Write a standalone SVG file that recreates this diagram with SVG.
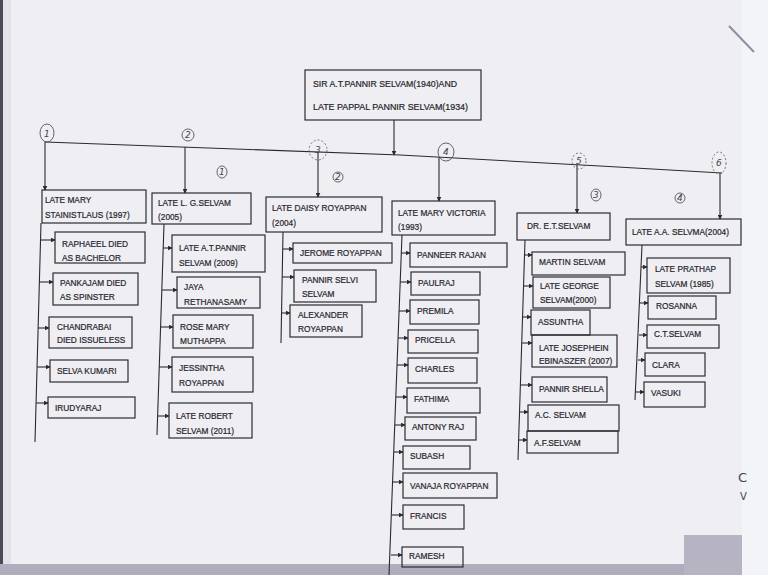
<svg xmlns="http://www.w3.org/2000/svg" width="768" height="575" viewBox="0 0 768 575">
<defs>
<style>
.bg{fill:#efeef3}
.box{fill:none;stroke:#2c2c33;stroke-width:1.2}
.t{font-family:"Liberation Sans",Arial,sans-serif;font-size:8.3px;fill:#26262c;stroke:#26262c;stroke-width:0.2}
.ln{fill:none;stroke:#2a2a30;stroke-width:1.1}
.arw{fill:none;stroke:#2a2a30;stroke-width:1.1;marker-end:url(#ah)}
.hw{fill:none;stroke:#55555e;stroke-width:0.9}
.hwd{fill:none;stroke:#66666e;stroke-width:0.9;stroke-dasharray:2 2}
.ht{font-family:"DejaVu Sans",sans-serif;font-size:9px;fill:#44444c;font-style:italic}
</style>
<marker id="ah" viewBox="0 0 8 8" refX="7" refY="4" markerWidth="5" markerHeight="5" orient="auto" markerUnits="userSpaceOnUse">
<path d="M0,0 L8,4 L0,8 z" fill="#2a2a30"/>
</marker>
</defs>

<!-- paper -->
<rect class="bg" x="0" y="0" width="768" height="575"/>
<rect x="742" y="0" width="26" height="575" fill="#f3f4f8"/>
<rect x="0" y="0" width="3" height="575" fill="#4a4a55"/>
<rect x="3" y="0" width="8" height="575" fill="#e3e2ea"/>
<rect x="0" y="564" width="742" height="11" fill="#b0aebc"/>
<rect x="684" y="535" width="58" height="40" fill="#b6b4c2"/>
<line x1="729" y1="26" x2="754" y2="52" stroke="#8e8da0" stroke-width="2"/>

<g id="connectors">
<!-- main rail -->
<polyline class="ln" points="45,142 400,155 600,166 722,173"/>
<line class="arw" x1="394" y1="120" x2="394" y2="155"/>
<line class="arw" x1="45" y1="142" x2="45" y2="190"/>
<line class="arw" x1="185" y1="147" x2="185" y2="193"/>
<line class="arw" x1="318" y1="152" x2="318" y2="197"/>
<line class="arw" x1="439" y1="157" x2="439" y2="201"/>
<line class="arw" x1="577" y1="165" x2="577" y2="213"/>
<line class="arw" x1="720" y1="173" x2="720" y2="219"/>
<!-- trunks -->
<line class="ln" x1="41" y1="223" x2="35" y2="442"/>
<line class="ln" x1="164" y1="224" x2="157" y2="435"/>
<line class="ln" x1="283" y1="232" x2="281" y2="343"/>
<line class="ln" x1="402" y1="235" x2="389" y2="575"/>
<line class="ln" x1="525" y1="240" x2="518" y2="460"/>
<line class="ln" x1="642" y1="245" x2="635" y2="400"/>
<!-- family 1 -->
<line class="arw" x1="40" y1="240" x2="55" y2="240"/>
<line class="arw" x1="39" y1="282" x2="53" y2="282"/>
<line class="arw" x1="38" y1="328" x2="49" y2="328"/>
<line class="arw" x1="37" y1="367" x2="50" y2="367"/>
<line class="arw" x1="36" y1="403" x2="48" y2="403"/>
<!-- family 2 -->
<line class="arw" x1="163" y1="248" x2="172" y2="248"/>
<line class="arw" x1="162" y1="290" x2="177" y2="290"/>
<line class="arw" x1="161" y1="327" x2="173" y2="327"/>
<line class="arw" x1="159" y1="367" x2="172" y2="367"/>
<line class="arw" x1="158" y1="416" x2="169" y2="416"/>
<!-- family 3 -->
<line class="arw" x1="283" y1="249" x2="293" y2="249"/>
<line class="arw" x1="282" y1="277" x2="294" y2="277"/>
<line class="arw" x1="282" y1="313" x2="290" y2="313"/>
<!-- family 4 -->
<line class="arw" x1="401" y1="253" x2="410" y2="253"/>
<line class="arw" x1="400" y1="282" x2="411" y2="282"/>
<line class="arw" x1="399" y1="311" x2="410" y2="311"/>
<line class="arw" x1="398" y1="338" x2="408" y2="338"/>
<line class="arw" x1="397" y1="365" x2="408" y2="365"/>
<line class="arw" x1="396" y1="397" x2="407" y2="397"/>
<line class="arw" x1="395" y1="425" x2="405" y2="425"/>
<line class="arw" x1="394" y1="452" x2="403" y2="452"/>
<line class="arw" x1="393" y1="482" x2="403" y2="482"/>
<line class="arw" x1="392" y1="515" x2="403" y2="515"/>
<line class="arw" x1="391" y1="555" x2="402" y2="555"/>
<!-- family 5 -->
<line class="arw" x1="525" y1="255" x2="532" y2="255"/>
<line class="arw" x1="524" y1="286" x2="533" y2="286"/>
<line class="arw" x1="523" y1="317" x2="531" y2="317"/>
<line class="arw" x1="522" y1="343" x2="532" y2="343"/>
<line class="arw" x1="521" y1="385" x2="532" y2="385"/>
<line class="arw" x1="520" y1="412" x2="528" y2="412"/>
<line class="arw" x1="519" y1="440" x2="527" y2="440"/>
<!-- family 6 -->
<line class="arw" x1="641" y1="267" x2="647" y2="267"/>
<line class="arw" x1="640" y1="303" x2="648" y2="303"/>
<line class="arw" x1="639" y1="335" x2="647" y2="335"/>
<line class="arw" x1="638" y1="360" x2="645" y2="360"/>
<line class="arw" x1="636" y1="392" x2="644" y2="392"/>
</g>

<g id="root">
<rect class="box" x="305" y="70" width="176" height="50"/>
<text class="t" x="313" y="87" textLength="144" lengthAdjust="spacingAndGlyphs">SIR A.T.PANNIR SELVAM(1940)AND</text>
<text class="t" x="313" y="110" textLength="155" lengthAdjust="spacingAndGlyphs">LATE PAPPAL PANNIR  SELVAM(1934)</text>
</g>

<g id="n1"><rect class="box" x="42" y="190" width="104" height="33"/>
<text class="t" x="45" y="203">LATE MARY</text><text class="t" x="45" y="218">STAINISTLAUS (1997)</text></g>
<g id="n2"><rect class="box" x="152" y="193" width="99" height="31"/>
<text class="t" x="158" y="206">LATE L. G.SELVAM</text><text class="t" x="158" y="220">(2005)</text></g>
<g id="n3"><rect class="box" x="266" y="197" width="116" height="35"/>
<text class="t" x="272" y="211">LATE DAISY ROYAPPAN</text><text class="t" x="272" y="226">(2004)</text></g>
<g id="n4"><rect class="box" x="392" y="201" width="103" height="34"/>
<text class="t" x="398" y="216">LATE MARY VICTORIA</text><text class="t" x="398" y="230">(1993)</text></g>
<g id="n5"><rect class="box" x="517" y="213" width="93" height="27"/>
<text class="t" x="527" y="229">DR.  E.T.SELVAM</text></g>
<g id="n6"><rect class="box" x="626" y="219" width="115" height="26"/>
<text class="t" x="632" y="235">LATE A.A. SELVMA(2004)</text></g>

<g id="n1a"><rect class="box" x="55" y="232" width="90" height="31"/><text class="t" x="62" y="247">RAPHAEEL DIED</text><text class="t" x="62" y="261">AS BACHELOR</text></g>
<g id="n1b"><rect class="box" x="53" y="273" width="85" height="32"/><text class="t" x="60" y="286">PANKAJAM DIED</text><text class="t" x="60" y="300">AS SPINSTER</text></g>
<g id="n1c"><rect class="box" x="49" y="317" width="83" height="31"/><text class="t" x="57" y="330">CHANDRABAI</text><text class="t" x="57" y="343">DIED ISSUELESS</text></g>
<g id="n1d"><rect class="box" x="50" y="360" width="78" height="22"/><text class="t" x="57" y="374">SELVA KUMARI</text></g>
<g id="n1e"><rect class="box" x="48" y="397" width="87" height="21"/><text class="t" x="55" y="411">IRUDYARAJ</text></g>

<g id="n2a"><rect class="box" x="172" y="235" width="93" height="37"/><text class="t" x="179" y="251">LATE A.T.PANNIR</text><text class="t" x="179" y="266">SELVAM (2009)</text></g>
<g id="n2b"><rect class="box" x="177" y="277" width="83" height="31"/><text class="t" x="184" y="290">JAYA</text><text class="t" x="184" y="305">RETHANASAMY</text></g>
<g id="n2c"><rect class="box" x="173" y="315" width="80" height="33"/><text class="t" x="180" y="330">ROSE MARY</text><text class="t" x="180" y="344">MUTHAPPA</text></g>
<g id="n2d"><rect class="box" x="172" y="357" width="81" height="35"/><text class="t" x="179" y="371">JESSINTHA</text><text class="t" x="179" y="386">ROYAPPAN</text></g>
<g id="n2e"><rect class="box" x="169" y="403" width="83" height="35"/><text class="t" x="176" y="419">LATE ROBERT</text><text class="t" x="176" y="434">SELVAM (2011)</text></g>

<g id="n3a"><rect class="box" x="293" y="243" width="99" height="20"/><text class="t" x="300" y="256">JEROME ROYAPPAN</text></g>
<g id="n3b"><rect class="box" x="294" y="270" width="82" height="32"/><text class="t" x="302" y="283">PANNIR SELVI</text><text class="t" x="302" y="297">SELVAM</text></g>
<g id="n3c"><rect class="box" x="290" y="305" width="72" height="32"/><text class="t" x="298" y="318">ALEXANDER</text><text class="t" x="298" y="332">ROYAPPAN</text></g>

<g id="n4a"><rect class="box" x="410" y="243" width="97" height="24"/><text class="t" x="417" y="258">PANNEER RAJAN</text></g>
<g id="n4b"><rect class="box" x="411" y="272" width="69" height="23"/><text class="t" x="418" y="286">PAULRAJ</text></g>
<g id="n4c"><rect class="box" x="410" y="300" width="69" height="24"/><text class="t" x="417" y="314">PREMILA</text></g>
<g id="n4d"><rect class="box" x="408" y="330" width="70" height="23"/><text class="t" x="415" y="343">PRICELLA</text></g>
<g id="n4e"><rect class="box" x="408" y="358" width="69" height="25"/><text class="t" x="415" y="372">CHARLES</text></g>
<g id="n4f"><rect class="box" x="407" y="388" width="73" height="25"/><text class="t" x="414" y="402">FATHIMA</text></g>
<g id="n4g"><rect class="box" x="405" y="417" width="71" height="23"/><text class="t" x="412" y="430">ANTONY RAJ</text></g>
<g id="n4h"><rect class="box" x="403" y="446" width="67" height="23"/><text class="t" x="410" y="459">SUBASH</text></g>
<g id="n4i"><rect class="box" x="403" y="473" width="94" height="25"/><text class="t" x="410" y="489">VANAJA ROYAPPAN</text></g>
<g id="n4j"><rect class="box" x="403" y="505" width="61" height="24"/><text class="t" x="410" y="519">FRANCIS</text></g>
<g id="n4k"><rect class="box" x="402" y="547" width="61" height="20"/><text class="t" x="409" y="559">RAMESH</text></g>

<g id="n5a"><rect class="box" x="532" y="252" width="93" height="23"/><text class="t" x="539" y="265">MARTIN SELVAM</text></g>
<g id="n5b"><rect class="box" x="533" y="277" width="77" height="31"/><text class="t" x="540" y="289">LATE GEORGE</text><text class="t" x="540" y="303">SELVAM(2000)</text></g>
<g id="n5c"><rect class="box" x="531" y="310" width="59" height="25"/><text class="t" x="538" y="325">ASSUNTHA</text></g>
<g id="n5d"><rect class="box" x="532" y="335" width="85" height="32"/><text class="t" x="539" y="351">LATE JOSEPHEIN</text><text class="t" x="539" y="364">EBINASZER (2007)</text></g>
<g id="n5e"><rect class="box" x="532" y="377" width="75" height="25"/><text class="t" x="539" y="392">PANNIR SHELLA</text></g>
<g id="n5f"><rect class="box" x="528" y="405" width="91" height="26"/><text class="t" x="535" y="418">A.C. SELVAM</text></g>
<g id="n5g"><rect class="box" x="527" y="431" width="91" height="22"/><text class="t" x="534" y="446">A.F.SELVAM</text></g>

<g id="n6a"><rect class="box" x="647" y="258" width="83" height="35"/><text class="t" x="655" y="272">LATE PRATHAP</text><text class="t" x="655" y="287">SELVAM (1985)</text></g>
<g id="n6b"><rect class="box" x="648" y="296" width="68" height="23"/><text class="t" x="656" y="309">ROSANNA</text></g>
<g id="n6c"><rect class="box" x="647" y="325" width="72" height="23"/><text class="t" x="654" y="337">C.T.SELVAM</text></g>
<g id="n6d"><rect class="box" x="645" y="353" width="60" height="23"/><text class="t" x="652" y="368">CLARA</text></g>
<g id="n6e"><rect class="box" x="644" y="382" width="61" height="25"/><text class="t" x="651" y="396">VASUKI</text></g>

<g id="annotations">
<ellipse class="hw" cx="47" cy="133" rx="7" ry="9"/><text class="ht" x="44" y="137">1</text>
<ellipse class="hw" cx="188" cy="135" rx="6" ry="6"/><text class="ht" x="185" y="138">2</text>
<ellipse class="hwd" cx="318" cy="150" rx="9" ry="10"/><text class="ht" x="315" y="153">3</text>
<ellipse class="hw" cx="446" cy="152" rx="8" ry="9"/><text class="ht" x="443" y="155">4</text>
<ellipse class="hwd" cx="579" cy="161" rx="7" ry="8"/><text class="ht" x="576" y="164">5</text>
<ellipse class="hwd" cx="719" cy="163" rx="7" ry="11"/><text class="ht" x="716" y="166">6</text>
<ellipse class="hw" cx="222" cy="172" rx="5" ry="6"/><text class="ht" x="219" y="175">1</text>
<ellipse class="hw" cx="338" cy="177" rx="5" ry="5"/><text class="ht" x="335" y="180">2</text>
<ellipse class="hw" cx="596" cy="195" rx="5" ry="6"/><text class="ht" x="593" y="198">3</text>
<ellipse class="hw" cx="680" cy="198" rx="5" ry="5"/><text class="ht" x="677" y="201">4</text>
<text class="ht" x="738" y="482" style="font-size:13px;font-style:normal">C</text>
<text class="ht" x="740" y="500" style="font-size:10px;font-style:normal">V</text>
</g>
</svg>
